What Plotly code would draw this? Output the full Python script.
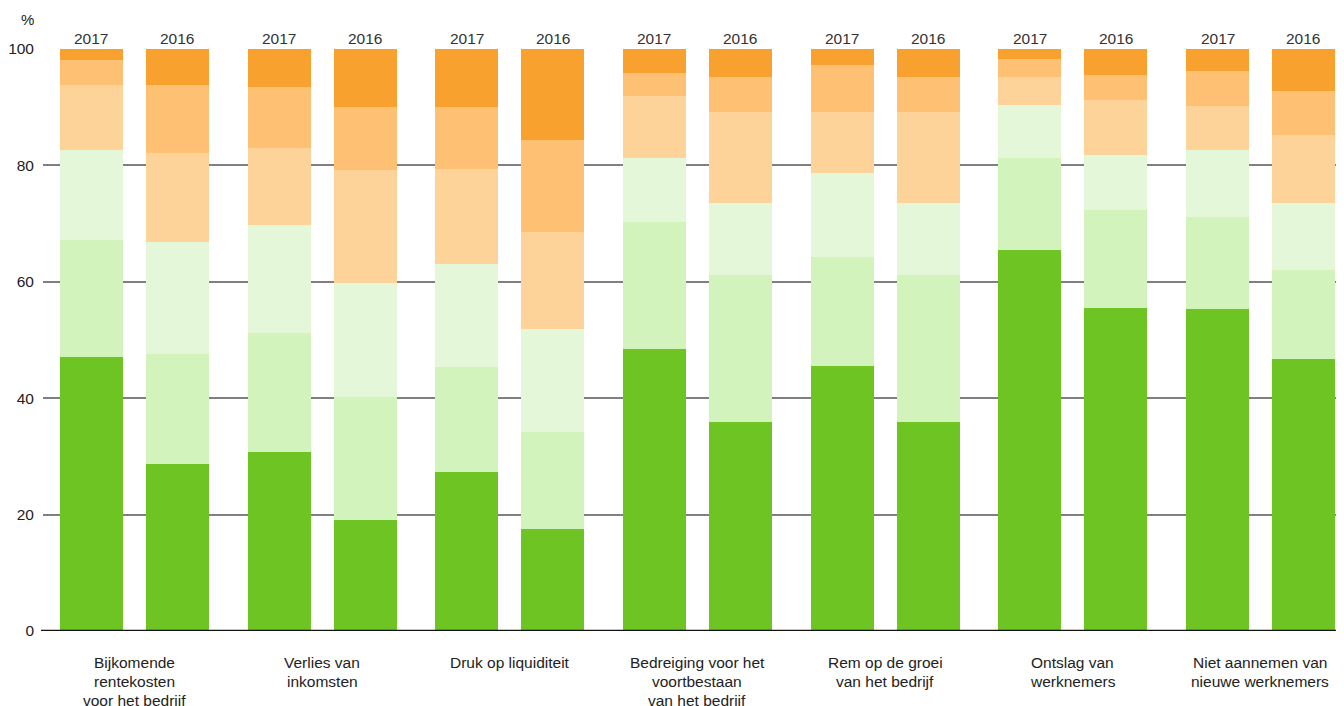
import plotly.graph_objects as go

categories = [
    "Bijkomende<br>rentekosten<br>voor het bedrijf",
    "Verlies van<br>inkomsten",
    "Druk op liquiditeit",
    "Bedreiging voor het<br>voortbestaan<br>van het bedrijf",
    "Rem op de groei<br>van het bedrijf",
    "Ontslag van<br>werknemers",
    "Niet aannemen van<br>nieuwe werknemers",
]
years = ["2017", "2016"]

# segment values (bottom to top) per category, for 2017 and 2016
seg1_2017 = [47.1, 30.8, 27.3, 48.5, 45.5, 65.5, 55.3]
seg2_2017 = [20.1, 20.4, 18.1, 21.8, 18.8, 15.8, 15.8]
seg3_2017 = [15.4, 18.6, 17.7, 11.0, 14.4, 9.1, 11.5]
seg4_2017 = [11.2, 13.2, 16.3, 10.6, 10.5, 4.8, 7.6]
seg5_2017 = [4.3, 10.5, 10.6, 4.0, 8.1, 3.1, 6.0]
seg6_2017 = [1.9, 6.5, 10.0, 4.1, 2.7, 1.7, 3.8]

seg1_2016 = [28.7, 19.1, 17.5, 35.9, 35.9, 55.5, 46.7]
seg2_2016 = [18.9, 21.1, 16.7, 25.3, 25.3, 16.8, 15.3]
seg3_2016 = [19.2, 19.6, 17.7, 12.3, 12.3, 9.5, 11.5]
seg4_2016 = [15.3, 19.4, 16.7, 15.7, 15.7, 9.4, 11.7]
seg5_2016 = [11.7, 10.8, 15.8, 6.0, 6.0, 4.3, 7.6]
seg6_2016 = [6.2, 10.0, 15.6, 4.8, 4.8, 4.5, 7.2]

y_ticks = [0, 20, 40, 60, 80, 100]

colors = ["#6EC422", "#D2F4BC", "#E4F7D8", "#FED39A", "#FEC174", "#F9A12F"]

segs = {
    "2017": [seg1_2017, seg2_2017, seg3_2017, seg4_2017, seg5_2017, seg6_2017],
    "2016": [seg1_2016, seg2_2016, seg3_2016, seg4_2016, seg5_2016, seg6_2016],
}

FONT = "Liberation Sans, Arial, Helvetica, sans-serif"
offset = {"2017": -0.229, "2016": 0.229}
bar_w = 0.335

W, H = 1336, 698
ML, MT, MB = 35, 41, 75
PW, PH = W - ML, H - MT - MB

fig = go.Figure()
for yr in years:
    xs = [i + offset[yr] for i in range(len(categories))]
    for k, vals in enumerate(segs[yr]):
        fig.add_trace(go.Bar(
            x=xs, y=vals, width=bar_w,
            marker=dict(color=colors[k], line=dict(width=0)),
            showlegend=False, hoverinfo="y",
        ))

annotations = []
for yr in years:
    for i in range(len(categories)):
        annotations.append(dict(
            x=i + offset[yr], y=100, xref="x", yref="y",
            text=yr, showarrow=False, yanchor="middle", yshift=11,
            font=dict(family=FONT, size=15.5, color="#333333"),
        ))
for i, c in enumerate(categories):
    for j, line in enumerate(c.split("<br>")):
        annotations.append(dict(
            x=i, y=0, xref="x", yref="y", text=line, showarrow=False,
            yanchor="middle", yshift=-31 - 19 * j, align="center",
            font=dict(family=FONT, size=15.5, color="#222222"),
        ))
annotations.append(dict(
    x=(19 - ML) / PW, y=(H - MB - 12) / PH, xref="paper", yref="paper",
    text="%", showarrow=False, xanchor="center", yanchor="middle",
    font=dict(family=FONT, size=15, color="#222222"),
))

fig.update_layout(
    width=W, height=H,
    margin=dict(l=ML, r=0, t=MT, b=MB),
    paper_bgcolor="white", plot_bgcolor="white",
    barmode="stack", bargap=0,
    font=dict(family=FONT, size=15.5, color="#222222"),
    annotations=annotations,
    xaxis=dict(range=[-0.487, 6.445], showgrid=False, showticklabels=False,
               zeroline=False, showline=False, ticks=""),
    yaxis=dict(range=[0, 100], tickvals=y_ticks, showgrid=True,
               gridcolor="#808080", gridwidth=1.5, zeroline=False,
               showline=False, ticks="", ticklabelstandoff=8,
               tickfont=dict(family=FONT, size=15.5, color="#222222")),
    shapes=[dict(type="line", xref="paper", yref="y", x0=-2 / PW, x1=1,
                 y0=0, y1=0, line=dict(color="#111111", width=2.5), layer="above")],
)

fig.write_html("out.html")
